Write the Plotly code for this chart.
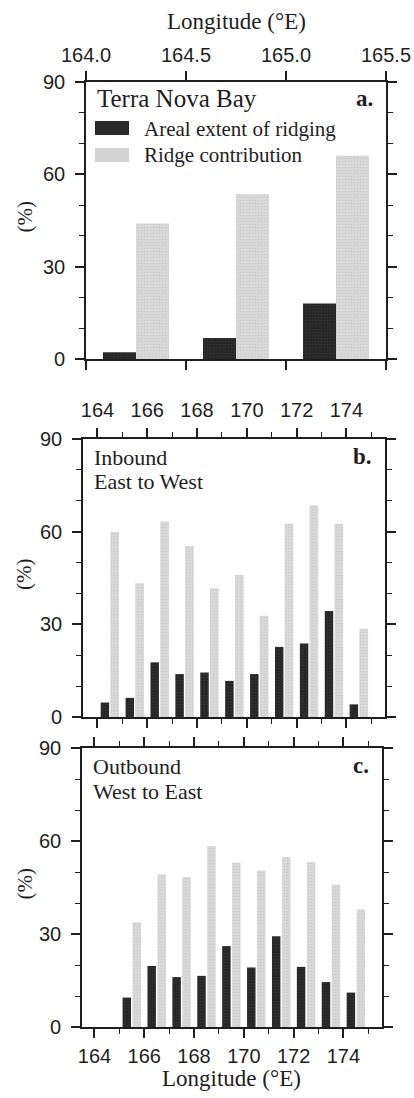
import plotly.graph_objects as go

# ---------------- data ----------------
lon_a = [164.25, 164.75, 165.25]
ridging_a = [2.2, 6.8, 18.0]
contrib_a = [44.0, 53.5, 66.0]

lon_b = [164.5, 165.5, 166.5, 167.5, 168.5, 169.5, 170.5, 171.5, 172.5, 173.5, 174.5]
ridging_b = [4.7, 6.2, 17.7, 13.9, 14.4, 11.7, 13.9, 22.7, 23.8, 34.3, 4.1]
contrib_b = [59.9, 43.3, 63.3, 55.4, 41.7, 46.0, 32.8, 62.6, 68.5, 62.5, 28.6]

lon_c = [165.5, 166.5, 167.5, 168.5, 169.5, 170.5, 171.5, 172.5, 173.5, 174.5]
ridging_c = [9.5, 19.7, 16.1, 16.5, 26.1, 19.2, 29.3, 19.4, 14.5, 11.1]
contrib_c = [33.7, 49.2, 48.4, 58.4, 53.0, 50.5, 54.8, 53.2, 45.9, 37.9]

series_names = ["Areal extent of ridging", "Ridge contribution"]
panel_titles = [["Terra Nova Bay"], ["Inbound", "East to West"], ["Outbound", "West to East"]]
panel_letters = ["a.", "b.", "c."]
axis_title = "Longitude (°E)"
y_title = "(%)"

# ---------------- styling ----------------
W, H = 414, 1098
DARK = "#2a2a2a"
LIGHT = "#d3d3d3"
INK = "#1e1e1e"
SANS = "Liberation Sans, Arial, sans-serif"
SERIF = "Liberation Serif, Times New Roman, serif"

def px_x(p):
    return p / W

def px_y(p):
    return 1 - p / H

# panel boxes in pixels: (left, right, top, bottom)
boxes = [(86, 386, 82, 359), (83, 385, 439, 717), (82, 382, 748, 1027)]

fig = go.Figure()

light_pattern = dict(shape=".", fgcolor="#b9b9b9", bgcolor="#d9d9d9", size=3, solidity=0.25)
dark_pattern = dict(shape=".", fgcolor="#444444", bgcolor="#262626", size=3, solidity=0.25)

# panel a
fig.add_trace(go.Bar(x=lon_a, y=ridging_a, name=series_names[0], xaxis="x", yaxis="y",
                     marker=dict(color=DARK, line_width=0, pattern=dark_pattern),
                     width=0.165, offset=-0.165, showlegend=False))
fig.add_trace(go.Bar(x=lon_a, y=contrib_a, name=series_names[1], xaxis="x", yaxis="y",
                     marker=dict(color=LIGHT, line_width=0, pattern=light_pattern),
                     width=0.165, offset=0.0, showlegend=False))
# panel b
fig.add_trace(go.Bar(x=lon_b, y=ridging_b, name=series_names[0], xaxis="x2", yaxis="y2",
                     marker=dict(color=DARK, line_width=0, pattern=dark_pattern),
                     width=0.34, offset=-0.37, showlegend=False))
fig.add_trace(go.Bar(x=lon_b, y=contrib_b, name=series_names[1], xaxis="x2", yaxis="y2",
                     marker=dict(color=LIGHT, line_width=0, pattern=light_pattern),
                     width=0.35, offset=0.02, showlegend=False))
# panel c
fig.add_trace(go.Bar(x=lon_c, y=ridging_c, name=series_names[0], xaxis="x3", yaxis="y3",
                     marker=dict(color=DARK, line_width=0, pattern=dark_pattern),
                     width=0.34, offset=-0.37, showlegend=False))
fig.add_trace(go.Bar(x=lon_c, y=contrib_c, name=series_names[1], xaxis="x3", yaxis="y3",
                     marker=dict(color=LIGHT, line_width=0, pattern=light_pattern),
                     width=0.34, offset=0.03, showlegend=False))

common_axis = dict(showline=True, linewidth=1.6, linecolor=INK, mirror="ticks",
                   ticks="outside", ticklen=9, tickwidth=1.5, tickcolor=INK,
                   showgrid=False, zeroline=False, automargin=False,
                   tickfont=dict(family=SANS, size=20, color=INK))

ranges_x = [[164.0, 165.5], [163.42, 175.55], [163.5, 175.55]]
x_standoffs = [1, 3, 1]
layout = dict(width=W, height=H, margin=dict(l=0, r=0, t=0, b=0, autoexpand=False),
              paper_bgcolor="white", plot_bgcolor="white", barmode="overlay",
              showlegend=False)

for i, (l, r, t, b) in enumerate(boxes):
    sfx = "" if i == 0 else str(i + 1)
    xa = dict(common_axis, domain=[px_x(l), px_x(r)], range=ranges_x[i],
              anchor="y" + sfx, ticklabelstandoff=x_standoffs[i])
    if i == 0:
        xa.update(dtick=0.5, tick0=164.0, tickformat=".1f", side="top")
    else:
        xa.update(dtick=2, tick0=164, side="top" if i == 1 else "bottom",
                  minor=dict(dtick=1, ticklen=5, tickwidth=1.3, tickcolor=INK, ticks="outside"))
    ya = dict(common_axis, domain=[px_y(b), px_y(t)], range=[0, 90], dtick=30, tick0=0,
              anchor="x" + sfx, ticklabelstandoff=6,
              minor=dict(dtick=10, ticklen=5, tickwidth=1.3, tickcolor=INK, ticks="outside"))
    layout["xaxis" + sfx] = xa
    layout["yaxis" + sfx] = ya

fig.update_layout(**layout)

ann = []
# top & bottom axis titles
ann.append(dict(text=axis_title, x=px_x(236), y=px_y(22), xref="paper", yref="paper",
                xanchor="center", yanchor="middle", showarrow=False,
                font=dict(family=SERIF, size=23, color=INK)))
ann.append(dict(text=axis_title, x=px_x(231), y=px_y(1078), xref="paper", yref="paper",
                xanchor="center", yanchor="middle", showarrow=False,
                font=dict(family=SERIF, size=23, color=INK)))
# y titles
for (l, r, t, b) in boxes:
    ann.append(dict(text=y_title, x=px_x(24), y=px_y((t + b) / 2 - 3), xref="paper", yref="paper",
                    xanchor="center", yanchor="middle", showarrow=False, textangle=-90,
                    font=dict(family=SERIF, size=21, color=INK)))
# panel titles (one annotation per line) and letters
title_centers = [[99], [457, 482], [766, 791]]
title_sizes = [25, 22, 22]
for i, (l, r, t, b) in enumerate(boxes):
    for line, yc in zip(panel_titles[i], title_centers[i]):
        ann.append(dict(text=line, x=px_x(l + 9), y=px_y(yc), xref="paper", yref="paper",
                        xanchor="left", yanchor="middle", align="left", showarrow=False,
                        font=dict(family=SERIF, size=title_sizes[i], color=INK)))
    ann.append(dict(text="<b>" + panel_letters[i] + "</b>", x=px_x(r - 11), y=px_y(t + 17),
                    xref="paper", yref="paper", xanchor="right", yanchor="middle", showarrow=False,
                    font=dict(family=SERIF, size=23, color=INK)))
# legend texts
ann.append(dict(text=series_names[0], x=px_x(142), y=px_y(129), xref="paper", yref="paper",
                xanchor="left", yanchor="middle", showarrow=False,
                font=dict(family=SERIF, size=21, color=INK)))
ann.append(dict(text=series_names[1], x=px_x(142), y=px_y(155), xref="paper", yref="paper",
                xanchor="left", yanchor="middle", showarrow=False,
                font=dict(family=SERIF, size=21, color=INK)))

shapes = [
    dict(type="rect", xref="paper", yref="paper", x0=px_x(95), x1=px_x(129),
         y0=px_y(135), y1=px_y(121), fillcolor=DARK, line_width=0),
    dict(type="rect", xref="paper", yref="paper", x0=px_x(95), x1=px_x(129),
         y0=px_y(162), y1=px_y(148), fillcolor=LIGHT, line_width=0),
]

fig.update_layout(annotations=ann, shapes=shapes)

fig.write_html("out.html", config={"displayModeBar": False},
               post_script="document.body.style.margin='0px';document.body.style.overflow='hidden';")
